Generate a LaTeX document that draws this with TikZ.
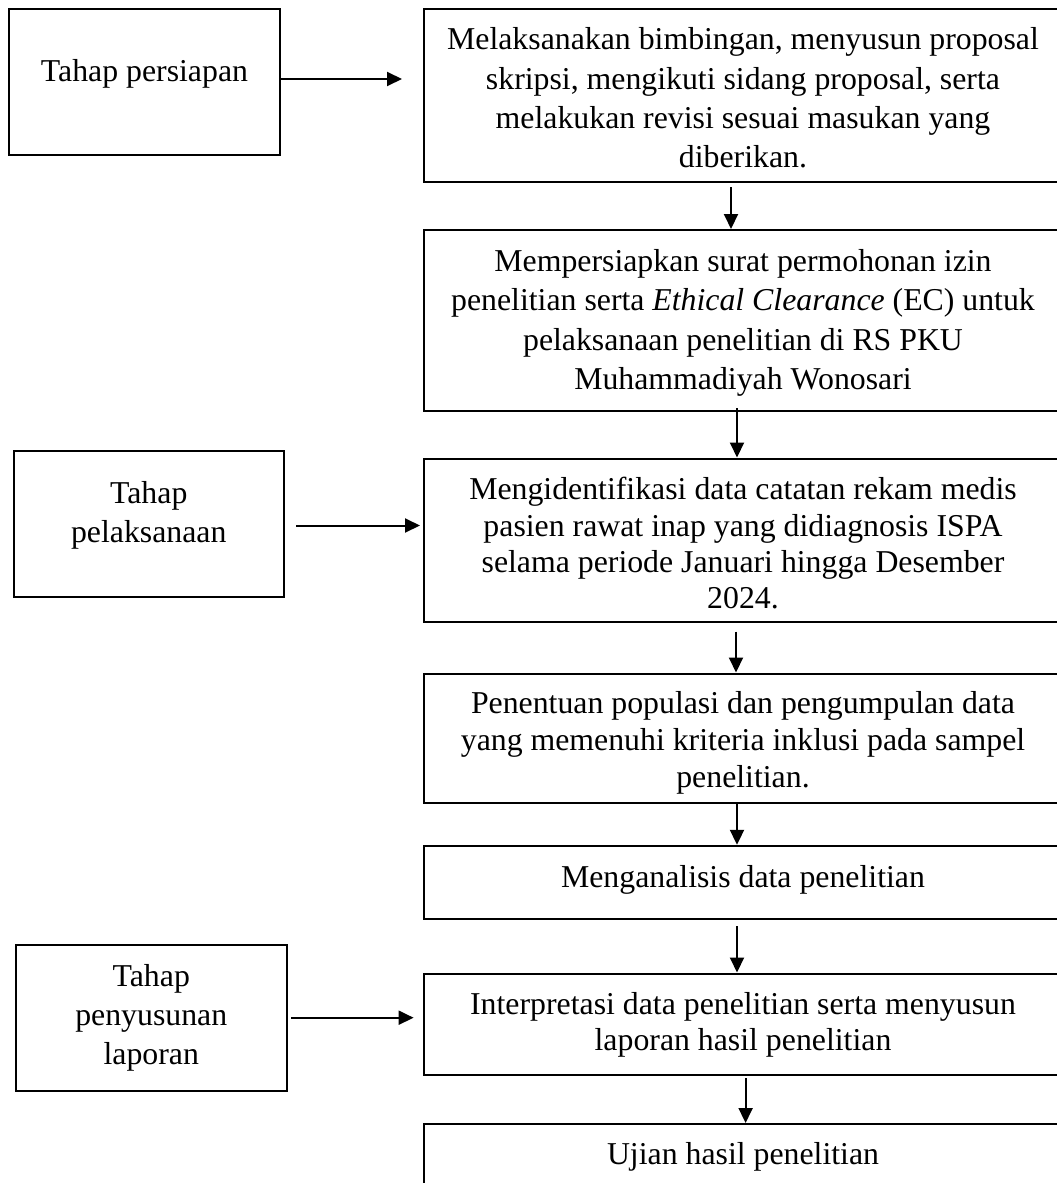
\documentclass[tikz,border=0pt]{standalone}
\usepackage{fontspec}
\setmainfont{Liberation Serif}
\usetikzlibrary{arrows.meta,calc}
\newcommand\fsz[1]{\fontsize{31.8pt}{#1pt}\selectfont}
\begin{document}
\begin{tikzpicture}[x=1pt,y=-1pt,
  leftbox/.style={draw,line width=2pt,inner sep=0pt,minimum width=270.5pt,minimum height=146pt},
  rightbox/.style={draw,line width=2pt,inner sep=0pt,minimum width=639.5pt},
  txt/.style={inner sep=0pt,align=center,anchor=north},
  arr/.style={line width=2pt,-{Triangle[length=15pt,width=14pt]}}]
\useasboundingbox (0,0) rectangle (1057,1183);
\clip (0,0) rectangle (1057,1183);
% left boxes
\node[leftbox,minimum width=271pt,minimum height=146.4pt] (l1) at (144.5,82.2) {};
\node[leftbox] (l2) at (148.75,524) {};
\node[leftbox] (l3) at (151.25,1018) {};
% right boxes
\node[rightbox,minimum height=173.3pt] (r1) at (743.25,95.65) {};
\node[rightbox,minimum height=180.5pt] (r2) at (743.25,320.25) {};
\node[rightbox,minimum height=163.8pt] (r3) at (743.25,540.4) {};
\node[rightbox,minimum height=129pt] (r4) at (743.25,738) {};
\node[rightbox,minimum height=73.4pt] (r5) at (743.25,882.5) {};
\node[rightbox,minimum height=101.5pt] (r6) at (743.25,1024.25) {};
\node[rightbox,minimum height=76pt] (r7) at (743.25,1162) {};
% texts
\node[txt,font=\fsz{39}] (l1t) at (144.5,54.2) {\strut Tahap persiapan};
\node[txt,font=\fsz{38.5}] (l2t) at (148.75,476.55) {\strut Tahap\\pelaksanaan};
\node[txt,font=\fsz{39.2}] (l3t) at (151.25,958.56) {\strut Tahap\\penyusunan\\laporan};
\node[txt,font=\fsz{39.2}] (r1t) at (743,22.26) {\strut Melaksanakan bimbingan, menyusun proposal\\skripsi, mengikuti sidang proposal, serta\\melakukan revisi sesuai masukan yang\\diberikan.};
\node[txt,font=\fsz{39.5}] (r2t) at (743,243.15) {\strut Mempersiapkan surat permohonan izin\\penelitian serta \textit{Ethical Clearance} (EC) untuk\\pelaksanaan penelitian di RS PKU\\Muhammadiyah Wonosari};
\node[txt,font=\fsz{36.4}] (r3t) at (743,473.92) {\strut Mengidentifikasi data catatan rekam medis\\pasien rawat inap yang didiagnosis ISPA\\selama periode Januari hingga Desember\\2024.};
\node[txt,font=\fsz{37.3}] (r4t) at (743,686.79) {\strut Penentuan populasi dan pengumpulan data\\yang memenuhi kriteria inklusi pada sampel\\penelitian.};
\node[txt,font=\fsz{38}] (r5t) at (743,860.4) {\strut Menganalisis data penelitian};
\node[txt,font=\fsz{36}] (r6t) at (743,988.8) {\strut Interpretasi data penelitian serta menyusun\\laporan hasil penelitian};
\node[txt,font=\fsz{38}] (r7t) at (743,1137.9) {\strut Ujian hasil penelitian};
% horizontal arrows
\draw[arr] ($(l1.east)+(0,-3.2)$) -- ($(r1.west)+(-20.5,-16.65)$);
\draw[arr] ($(l2.east)+(11,1.5)$) -- ($(r3.west)+(-2.5,-14.9)$);
\draw[arr] ($(l3.east)+(3.5,-0.3)$) -- ($(r6.west)+(-8.9,-6.55)$);
% vertical arrows
\draw[arr] ($(r1.south)+(-12.25,3.7)$) -- ($(r2.north)+(-12.25,0)$);
\draw[arr] ($(r2.south)+(-6.25,-3.5)$) -- ($(r3.north)+(-6.25,0)$);
\draw[arr] ($(r3.south)+(-7.25,8.4)$) -- ($(r4.north)+(-7.25,0)$);
\draw[arr] ($(r4.south)+(-6.25,0)$) -- ($(r5.north)+(-6.25,0)$);
\draw[arr] ($(r5.south)+(-6.25,5.8)$) -- ($(r6.north)+(-6.25,0)$);
\draw[arr] ($(r6.south)+(2.35,2)$) -- ($(r7.north)+(2.35,0)$);
\end{tikzpicture}
\end{document}
